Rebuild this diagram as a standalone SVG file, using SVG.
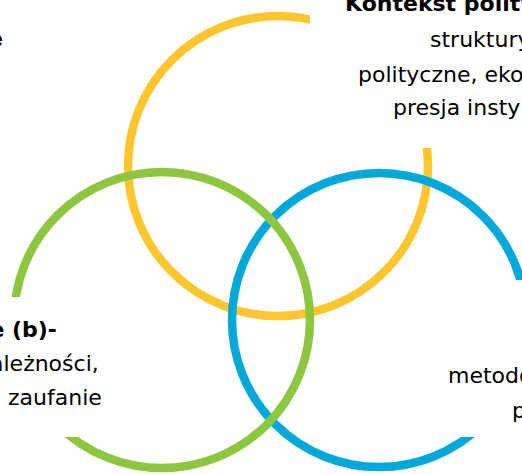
<svg xmlns="http://www.w3.org/2000/svg" width="522" height="474" viewBox="0 0 522 474">
  <style>
    .ring { fill: none; stroke-width: 8.5; }
    .mask { fill: #ffffff; }
    .lbl { font-family: "DejaVu Sans", Verdana, sans-serif; font-size: 22px; fill: #000000; }
    .b { font-weight: bold; }
  </style>
  <rect width="522" height="474" fill="#ffffff"/>

  <!-- three overlapping circles -->
  <g id="circle-yellow"><circle class="ring" cx="278" cy="166" r="150" stroke="#FEC52E"/></g>
  <g id="circle-blue"><circle class="ring" cx="379" cy="320" r="147" stroke="#00A9DA"/></g>
  <g id="circle-green"><circle class="ring" cx="162" cy="320" r="148" stroke="#8DC63F"/></g>

  <g id="connectors"></g>

  <!-- label boxes: white backing breaks the ring where the text sits -->
  <g id="label-top-left">
    <text class="lbl b" x="-12" y="46">e</text>
  </g>

  <g id="label-top-right">
    <rect class="mask" x="310" y="0" width="212" height="148"/>
    <text class="lbl b" x="345" y="11">Kontekst polity</text>
    <text class="lbl" x="430" y="47">struktury</text>
    <text class="lbl" x="358" y="82">polityczne, eko</text>
    <text class="lbl" x="393" y="115">presja insty</text>
  </g>

  <g id="label-left">
    <rect class="mask" x="0" y="297" width="110" height="140"/>
    <text class="lbl b" x="-10.6" y="337">e (b)-</text>
    <text class="lbl" x="-10" y="371">ależności,</text>
    <text class="lbl" x="8" y="405">zaufanie</text>
  </g>

  <g id="label-right">
    <rect class="mask" x="440" y="280" width="82" height="157"/>
    <text class="lbl" x="448" y="383">metodo</text>
    <text class="lbl" x="512" y="418">p</text>
  </g>
</svg>
